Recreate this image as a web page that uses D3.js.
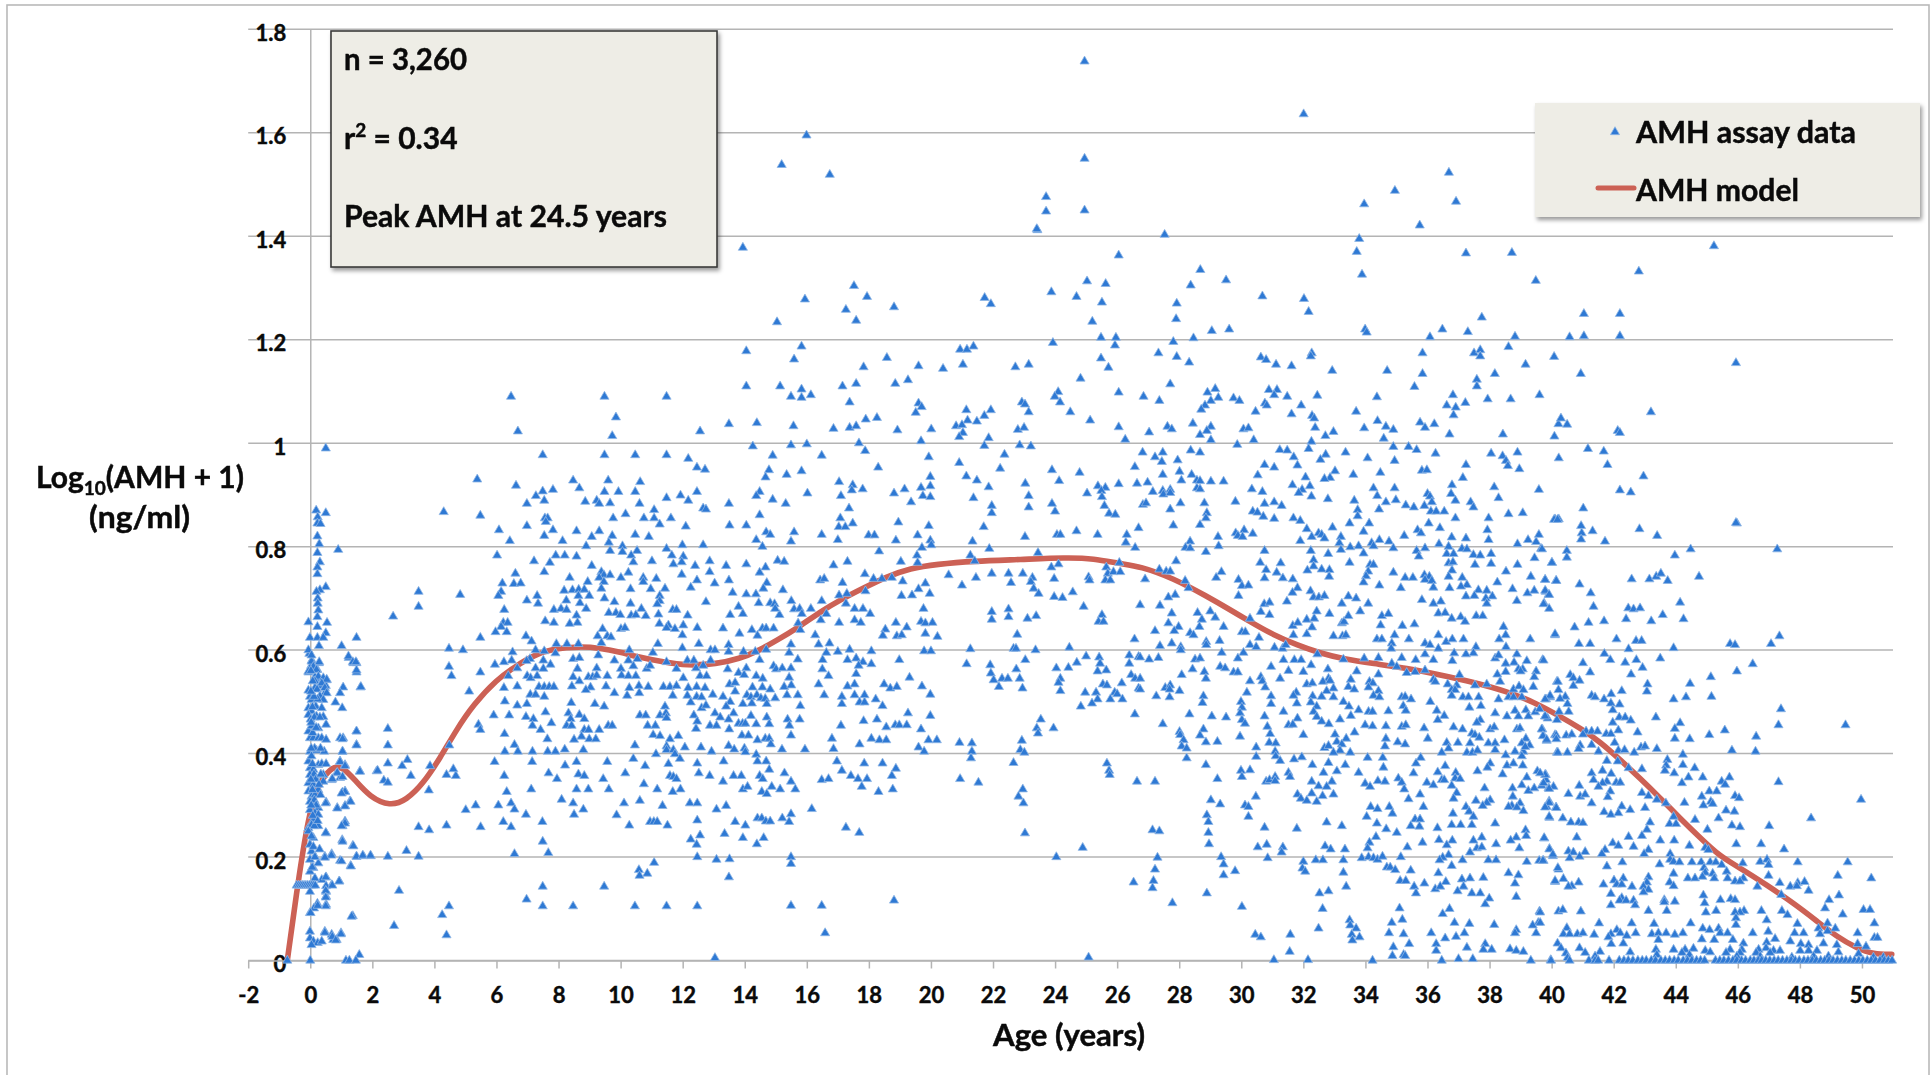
<!DOCTYPE html>
<html><head><meta charset="utf-8">
<style>html,body{margin:0;padding:0;background:#fff;overflow:hidden}svg{display:block}text{font-family:Lato,"Open Sans",sans-serif;font-weight:700;fill:#0a0a0a;stroke:#0a0a0a;stroke-width:.45px}</style>
<script src="https://cdnjs.cloudflare.com/ajax/libs/d3/7.8.5/d3.min.js"></script>
</head><body><svg id="c" width="1930" height="1075"></svg>
<script>
// every assay array is a flat list: age, log10(AMH+1), age, log10(AMH+1) ...
const assayInfants=[.5,.99,.19,.87,.5,.865,.24,.857,.23,.845,.33,.844,.23,.82,.29,.805,.9,.794,.23,.788,.31,.77,.23,.76,.23,.747,.5,.722,.31,.716,.2,.713,.24,.7,.24,.69,.26,.677,.23,.664,-.06,.654,.54,.653,.23,.645,-.01,.624,.23,.624,.5,.633,.42,.624,1.49,.624,1.01,.608,.28,.608,-.03,.593,1.24,.585,1.39,.575,1.49,.575,.05,.58,.28,.575,.03,.57,-.06,.557,.23,.562,1.49,.557,.15,.548,.53,.542,.26,.544,.31,.531,.5,.531,1.06,.528,1.62,.528,.96,.517,-.01,.51,.26,.505,.47,.517,
-.06,.6,.04,.578,.29,.577,1.23,.588,1.37,.577,1.47,.577,1.49,.561,1.63,.529,.04,.59,.1,.568,-.06,.559,.2,.562,.26,.549,.42,.546,.53,.543,.15,.54,.37,.536,-.06,.522,.15,.527,.22,.524,.47,.527,.53,.517,.31,.511,.04,.504,.42,.504,.24,.505,-.06,.488,.18,.491,.37,.488,.04,.482,-.06,.475,.2,.472,.42,.471,.01,.466,.51,.456,-.06,.443,.04,.453,.26,.449,-.01,.43,.1,.43,.26,.43,.37,.43,.51,.427,.96,.43,1.06,.43,1.49,.443,1.49,.417,1.04,.404,-.01,.404,.2,.406,.45,.404,-.06,.385,.04,.395,.26,.378,.37,.38,.51,.38,.96,.385,1.12,.378,1.6,.366,2.14,.366,-.01,.372,.1,.369,-.01,.359,.15,.356,.42,.359,.42,.346,.69,.349,.85,.362,.96,.353,-.06,.343,.1,.34,-.06,.327,.26,.33,.04,.317,.15,.32,-.01,.307,.51,.306,1.04,.325,1.12,.327,1.28,.308,1.12,.299,.87,.295,.26,.295,-.01,.291,.15,.285,.26,.282,.1,.272,.26,.26,-.06,.256,.04,.262,-.06,.25,1.12,.269,1.04,.26,.51,.246,.1,.237,-.01,.224,1.03,.233,1.37,.222,.04,.211,.69,.206,.47,.201,1.49,.201,1.71,.202,1.95,.202,.96,.193,.15,.201,-.01,.195,.26,.188,1.3,.183,.1,.179,-.01,.172,.51,.161,.37,.156,.94,.153,.69,.146,.15,.159,
-.44,.145,-.38,.145,-.32,.145,-.26,.145,-.2,.145,-.14,.145,-.08,.145,-.02,.145,.04,.145,.1,.145,.16,.145,-.01,.133,.51,.144,.51,.133,.51,.124,.23,.11,.51,.108,-.01,.092,.12,.101,1.37,.086,-.01,.056,.47,.056,.69,.05,.99,.053,-.01,.043,.1,.037,.24,.034,.37,.037,.74,.04,.85,.04,.04,.03,1.58,.011,1.15,0,1.26,0,1.47,0,-.74,0,0,0,
.02,.56,.08,.54,.12,.51,.02,.52,.07,.49,.13,.47,.03,.46,.08,.44,.14,.41,.03,.41,.07,.38,.12,.36,.18,.35,.02,.35,.07,.33,.13,.31,.19,.3,.03,.3,.08,.28,.13,.26,.04,.24,.1,.22,.15,.2,.06,.18,.19,.45,.31,.47,.33,.41,.34,.36,.28,.34,.33,.32,.24,.27,.3,.215];
const assayChildhood=[4.3,.867,5.38,.93,5.48,.86,2.67,.665,3.49,.713,3.49,.684,4.83,.707,4.47,.603,4.92,.6,4.47,.568,4.55,.55,5.48,.624,5.48,.557,5.12,.52,6.69,1.023,6.47,1.09,6.63,.918,6.98,.883,7.27,.898,7.49,.907,7.54,.889,7.82,.91,7.49,.977,8.47,.928,8.67,.913,8.86,.887,9.48,.977,9.85,1.05,9.73,1.014,9.48,1.09,9.6,.928,9.48,.906,9.93,.906,9.23,.889,9.31,.883,9.66,.884,10.47,.977,11.48,.977,11.48,1.09,12.56,1.023,12.18,.97,12.46,.953,12.72,.949,10.63,.925,10.47,.906,11.48,.894,11.93,.899,12.18,.889,12.46,.906,10.61,.883,10.16,.863,9.76,.855,10.75,.855,11.08,.871,11.08,.855,11.26,.843,11.62,.855,12.1,.839,12.66,.874,12.75,.872,6.98,.84,7.56,.855,7.65,.855,7.59,.848,6.08,.832,6.43,.811,7.54,.821,7.82,.832,8.13,.811,8.58,.83,9.07,.819,9.31,.83,9.73,.821,9.62,.808,8.89,.801,10.47,.823,10.91,.819,10.06,.801,10.06,.79,9.66,.792,10.53,.792,10.34,.783,10.41,.77,11.01,.772,11.48,.796,11.65,.783,11.99,.803,12.02,.781,11.97,.77,11.7,.766,12.66,.803,12.4,.763,12.87,.772,11.97,.746,12.87,.751,6.02,.783,7.21,.772,7.72,.769,7.91,.783,8.2,.783,8.58,.781,9.07,.763,7.54,.751,6.61,.748,6.19,.729,6.56,.728,6.78,.729,8.36,.74,9.38,.751,9.46,.745,9.66,.745,9.31,.74,9.46,.732,10.25,.75,10.01,.74,10.73,.74,10.73,.732,11.15,.738,12.46,.735,13.03,.729,12.26,.721,8.94,.732,6.15,.713,6.06,.705,8.18,.715,8.45,.716,8.65,.717,8.83,.717,9.38,.719,10.32,.718,10.97,.718,11.43,.719,8.99,.705,8.64,.705,7.31,.705,6.98,.696,7.34,.69,8.25,.696,8.69,.691,9.48,.7,9.8,.693,10.32,.69,11.26,.705,11.26,.695,11.18,.689,12.75,.693,6.25,.678,7.85,.678,8.08,.68,8.26,.678,8.89,.68,8.58,.667,9.62,.672,9.85,.672,9.99,.668,10.34,.667,10.49,.668,10.67,.68,10.81,.666,11.22,.669,11.68,.678,11.8,.678,12.16,.667,7.57,.656,7.85,.653,8.36,.651,8.61,.653,6.22,.653,6.36,.653,6.15,.645,5.97,.635,6.33,.635,11.25,.651,11.54,.648,11.48,.643,11.75,.641,12.02,.648,11.99,.629,12.47,.643,9.42,.641,10.01,.641,10.14,.643,9.26,.627,9.57,.627,9.69,.625,6.95,.627,7.13,.617,7.93,.612,8.27,.612,8.64,.612,9.38,.614,11.2,.612,12.52,.612,11.99,.604,10.28,.6,7.26,.6,7.54,.598,6.52,.596,7.9,.594,9.28,.59,11.04,.595,12.9,.6,13.04,.6,
5.95,.572,6.24,.577,6.49,.58,6.67,.565,7.08,.583,6.97,.579,7.51,.58,7.74,.572,7.26,.565,7.51,.564,6.38,.55,8.47,.583,8.67,.585,8.61,.564,9.23,.565,9.8,.58,10.25,.58,10.54,.583,10.41,.569,10.01,.564,10.03,.551,10.25,.55,10.84,.564,10.95,.57,10.49,.55,11.48,.577,11.8,.564,12.15,.58,12.36,.58,12.43,.565,12.66,.57,12.9,.58,12.02,.546,12.56,.55,12.77,.55,8.47,.548,8.67,.54,8.96,.548,9.1,.548,9.23,.551,9.57,.55,6.99,.55,7.1,.546,7.31,.55,8.43,.53,9.03,.528,8.88,.523,9.53,.53,9.8,.517,6.67,.53,6.24,.527,7.37,.529,7.54,.529,7.7,.529,7.85,.529,7.09,.514,7.26,.514,7.54,.51,10.28,.527,10.59,.531,10.89,.529,10.6,.517,10.21,.512,11.38,.529,11.59,.529,11.8,.531,11.68,.512,12.18,.527,12.45,.529,12.72,.527,12.15,.512,12.45,.51,12.61,.509,12.97,.514,
.81,.499,1.03,.488,6.27,.501,6.67,.493,6.98,.496,8.41,.498,9.17,.496,9.47,.491,11.43,.491,12.26,.499,12.61,.488,12.75,.493,5.91,.474,6.41,.474,7.58,.48,6.95,.471,7.19,.467,7.16,.454,7.77,.459,7.42,.446,8.32,.478,8.39,.467,8.67,.475,8.83,.467,8.26,.454,8.42,.454,8.83,.446,8.97,.446,9.31,.446,9.6,.454,9.73,.454,10.62,.474,10.81,.474,11.27,.474,11.46,.478,11.48,.469,10.87,.454,11.12,.454,12.36,.474,12.47,.462,12.43,.448,12.88,.454,13.09,.454,13.04,.478,11.05,.436,11.27,.434,11.59,.428,11.86,.434,11.48,.414,11.48,.407,5.42,.456,5.48,.446,6.26,.438,7.64,.428,8.5,.427,8.74,.433,8.99,.428,9.2,.428,6.58,.417,10.46,.416,8.8,.407,8.2,.408,6.27,.404,6.69,.404,7.16,.404,7.65,.404,7.9,.404,12.59,.412,12.93,.404,12.07,.412,11.7,.407,11.75,.399,11.14,.399,11.91,.39,10.41,.39,12.47,.381,11.54,.38,10.79,.376,5.94,.384,7.15,.384,8.58,.384,9.57,.384,8.21,.377,7.68,.362,8.64,.36,8.83,.357,6.25,.357,7.95,.351,9.44,.351,10.15,.362,12.52,.362,12.87,.357,11.59,.357,11.7,.355,11.8,.351,10.75,.341,6.33,.326,7.12,.331,8.58,.331,8.96,.331,9.62,.331,11.18,.331,11.68,.326,11.93,.331,6.06,.3,6.47,.304,6.58,.292,8.1,.311,8.47,.304,8.8,.292,10.11,.304,10.62,.309,11.35,.299,12.23,.304,12.47,.304,13.09,.292,8.5,.282,9.87,.281,6.95,.282,5.01,.291,5.33,.3,3.82,.329,4.39,.359,4.69,.357,4.61,.37,3.86,.376,4.48,.416,6.22,.268,6.47,.258,5.49,.258,4.39,.261,3.49,.258,3.83,.252,7.48,.268,10.95,.268,11.07,.268,11.18,.268,10.28,.261,11.51,.261,12.47,.271,12.26,.234,12.56,.242,12.45,.224,7.49,.23,7.67,.208,6.58,.206,12.47,.2,13.09,.195,
2.5,.448,2.5,.416,2.5,.381,3.13,.388,2.96,.376,2.17,.367,3.24,.357,1.6,.365,2.37,.348,2.5,.344,1.49,.443,1.49,.416,1.04,.428,1.04,.404,.96,.384,1.12,.376,.87,.363,1.04,.355,.71,.351,1.12,.326,1.01,.323,1.3,.307,1.12,.298,.87,.294,.5,.304,1.12,.265,1.01,.26,.5,.247,1.04,.23,1.39,.221,.68,.203,.47,.199,1.49,.201,1.69,.203,1.94,.203,2.5,.201,3.1,.212,3.49,.201,1.01,.192,1.31,.182,.71,.145,.93,.153,.5,.161,.5,.135,.5,.122,.5,.105,2.86,.135,1.33,.085,4.47,.105,4.25,.088,2.7,.067,4.39,.049,.47,.054,.99,.051,.71,.046,.82,.039,.24,.106,.01,.092,6.97,.118,7.49,.143,7.49,.105,8.47,.105,9.47,.143,10.46,.105,11.48,.105,12.47,.105,10.59,.175,10.61,.164,10.86,.168,11.08,.189,13.04,.005];
const assayTeensUpper=[13.94,1.378,15.94,1.278,15.04,1.234,17.52,1.304,17.94,1.283,17.26,1.258,17.59,1.237,18.81,1.263,21.73,1.281,21.93,1.269,23.43,1.412,23.88,1.292,24.69,1.283,25.03,1.313,25.63,1.308,26.05,1.363,25.51,1.272,25.2,1.235,25.48,1.204,25.96,1.204,25.93,1.189,23.93,1.194,14.05,1.178,15.83,1.187,15.59,1.162,20.94,1.181,21.16,1.181,21.37,1.187,21.03,1.152,20.39,1.144,19.6,1.149,18.58,1.165,17.83,1.147,22.72,1.147,23.15,1.152,25.48,1.164,25.72,1.146,24.82,1.125,14.05,1.11,15.14,1.11,15.83,1.104,15.49,1.09,15.83,1.088,16.13,1.093,17.15,1.11,17.59,1.115,17.38,1.079,18.85,1.115,19.26,1.122,19.6,1.077,19.7,1.07,19.51,1.059,21.14,1.064,21.93,1.064,22.93,1.079,23.03,1.075,23.15,1.06,24.1,1.099,23.99,1.09,24.16,1.079,24.49,1.06,26.05,1.098,25.13,1.044,13.49,1.037,14.39,1.039,15.57,1.033,16.86,1.028,17.38,1.03,17.59,1.033,17.9,1.046,18.26,1.049,18.92,1.025,20.01,1.027,21.18,1.044,21.48,1.042,21.72,1.053,20.81,1.033,21,1.035,21.03,1.02,20.91,1.012,21.86,1.01,22.8,1.026,23,1.03,26.05,1.031,26.26,1.007,14.26,.994,15.49,.996,16,.998,17.68,1,17.88,.985,19.68,1.004,21.72,.995,22.86,.996,23.22,.994,14.9,.976,16.48,.976,19.93,.973,22.37,.978,20.91,.962,22.23,.951,18.3,.953,14.78,.948,15.83,.946,15.35,.939,14.67,.934,23.9,.948,24.79,.943,26.57,.954,21.14,.936,19.98,.935,21.48,.928,24.13,.927,17.04,.925,17.48,.919,17.45,.909,17.8,.911,19.15,.911,19.68,.914,19.98,.917,21.86,.915,23.04,.922,26.05,.921,26.64,.922,25.38,.917,25.62,.914,25.49,.908,14.48,.906,14.37,.898,14.9,.891,15.32,.883,13.49,.883,16.02,.903,17.1,.898,18.81,.903,19.74,.898,19.98,.896,19.36,.886,21.37,.894,23.15,.898,25.03,.903,25.51,.896,23.9,.883,21.96,.879,21.96,.865,23.15,.876,24,.868,17.36,.874,25.59,.879,25.74,.864,25.94,.862,14.48,.861,17.08,.855,17.03,.838,17.24,.838,17.48,.845,18.95,.847,19.93,.84,21.7,.838,13.51,.841,14.05,.841,14.69,.828,14.82,.823,15.59,.828,16.48,.823,17.99,.822,18.18,.822,19.57,.822,23.03,.819,24.06,.823,24.17,.823,24.69,.83,25.37,.823,26.31,.823,26.69,.836,14.37,.813,17,.813,15.49,.81,18.87,.812,19.98,.812,21.34,.81,26.28,.808,14.57,.8,20.01,.803,19.71,.798,21.88,.796,26.58,.798,18.33,.791,19.55,.783,21.27,.783,23.45,.788,13.4,.763,14.05,.766,15.06,.773,15.27,.771,16.86,.764,17.31,.771,19.03,.771,19.57,.769,21.41,.772,26.07,.769,23.88,.76,24.11,.766,14.48,.75,14.67,.76,13.49,.735,16.43,.735,16.56,.738,17.87,.747,18.15,.738,18.42,.738,18.74,.74,19.09,.733,20.57,.745,21.96,.748,22.5,.748,22.96,.748,21.45,.74,25.65,.76,25.7,.748,25.88,.751,26.1,.751,23.27,.74,23.97,.738,25.08,.741,25.62,.735,25.78,.735,22.58,.73,23.22,.732,25.11,.735,14.71,.73,14.6,.719,15.23,.716,13.61,.711,14.05,.708,14.36,.708,17.15,.73,17.89,.714,17.04,.706,17.29,.709,19.82,.729,19.6,.718,19.05,.705,19.39,.706,19.96,.709,21,.725,23.31,.719,23.47,.709,24.57,.712,23.97,.703,24.24,.701];
const assayTeensLower=[13.8,.684,13.53,.668,13.94,.67,14.45,.691,14.82,.691,14.96,.689,15.12,.668,14.98,.68,15.5,.695,15.59,.679,15.77,.68,15.84,.67,16.13,.68,16.48,.695,16.63,.67,17.26,.69,17.54,.68,17.81,.68,18.04,.67,19.76,.68,21.96,.674,22.5,.679,21.96,.659,22.5,.664,23.11,.661,23.39,.666,24.92,.684,25.51,.668,25.4,.655,25.56,.655,13.3,.642,13.83,.632,14.23,.639,14.41,.628,14.57,.642,14.69,.642,14.93,.642,15.72,.652,15.79,.639,16.45,.658,17.04,.653,17.54,.658,17.74,.653,18.87,.653,19.22,.644,18.53,.64,18.45,.628,18.9,.627,19.06,.629,19.68,.655,19.82,.652,20.05,.653,19.82,.632,20.21,.626,22.78,.63,13.48,.61,15.49,.611,16.27,.629,16.38,.611,16.73,.613,13.48,.597,13.96,.597,14.34,.597,14.69,.601,15.43,.595,16.63,.595,17,.597,17.38,.601,18.08,.598,19.78,.598,20,.598,21.27,.602,22.66,.603,22.74,.603,23.37,.6,24.46,.605,26.56,.621,25,.588,25.42,.586,26.39,.59,26.69,.587,14.48,.581,15.71,.582,16.51,.581,17.31,.581,17.59,.584,17.81,.577,18.98,.581,23.04,.581,18.08,.573,17.67,.57,21.15,.573,21.91,.571,24.7,.576,25.45,.574,26.39,.574,13.45,.563,14.05,.565,14.93,.569,15.01,.563,15.21,.565,15.49,.565,16.5,.563,22.75,.563,24.04,.565,24.43,.566,25.37,.559,25.65,.561,13.8,.556,13.98,.552,14.37,.55,14.58,.545,15.43,.547,16.7,.55,17.59,.554,19.31,.547,21.93,.555,22.02,.542,22.29,.545,22.48,.545,22.86,.545,24.17,.545,24.11,.537,26.45,.552,26.58,.545,13.51,.534,13.69,.537,14.25,.528,14.57,.528,14.82,.524,15.27,.529,15.5,.532,16.38,.534,17.31,.53,17.54,.534,18.49,.534,18.69,.526,18.9,.529,19.71,.53,22.19,.529,22.95,.526,25.54,.534,25.67,.532,26.15,.536,26.69,.526,13.69,.52,24.17,.521,24.97,.518,25.32,.518,25.92,.518,26,.515,13.3,.51,14.07,.513,14.2,.509,14.39,.513,14.52,.507,14.66,.506,14.98,.507,15.36,.513,15.71,.513,16.56,.513,17.13,.51,17.54,.513,17.86,.513,18.22,.505,19.98,.514,25.37,.505,25.78,.505,26.17,.505,13.53,.5,13.94,.496,14.23,.497,14.71,.496,13.4,.491,15.79,.492,17.13,.496,17.7,.499,17.86,.499,18.44,.492,25.19,.497,24.83,.491,13.64,.478,14.2,.473,14.71,.47,19.26,.478,19.98,.473,26.57,.476,13.21,.47,13.48,.466,15.38,.466,15.77,.466,17.83,.463,18.26,.466,23.54,.466,13.8,.458,13.93,.458,14.02,.458,14.37,.457,14.79,.457,15.44,.454,17.1,.454,18.56,.451,18.85,.455,18.98,.455,19.22,.455,19.68,.447,23.95,.449,23.41,.449,23.45,.439,13.5,.447,13.91,.435,14.12,.435,15.49,.435,14.41,.426,14.66,.429,14.79,.429,14.84,.418,16.81,.429,18.08,.429,18.34,.426,18.56,.426,19.92,.426,20.19,.426,20.92,.421,21.32,.42,22.93,.425,17.7,.418,13.48,.415,13.66,.408,13.99,.41,14.02,.403,15.2,.408,15.94,.408,16.86,.409,19.6,.412,19.78,.404,21.32,.404,22.88,.407,23.01,.402,14.37,.398,21.29,.391,14.41,.385,13.32,.385,14.69,.385,16.97,.385,17.85,.381,18.44,.381,22.66,.382,25.67,.381,18.87,.371,14.79,.369,17.13,.367,25.74,.367,25.76,.359,13.64,.357,13.89,.357,14.48,.357,14.58,.351,15.28,.362,13.3,.346,15.49,.346,16.48,.349,16.7,.351,17.42,.357,17.65,.351,17.94,.351,18.74,.357,20.94,.351,21.53,.344,26.64,.346,14.87,.336,13.94,.331,14.09,.336,14.55,.326,14.71,.322,15.14,.331,15.63,.331,17.77,.336,18.31,.326,18.77,.331,22.96,.331,22.82,.317,22.98,.304,13.4,.299,16.16,.293,15.49,.283,14.41,.275,14.55,.275,14.68,.269,14.82,.269,15.21,.275,15.43,.268,13.69,.268,14.02,.261,17.26,.257,17.69,.247,23.03,.246,13.35,.245,13.94,.237,14.61,.237,14.39,.225,15.49,.2,13.51,.196,15.49,.187,24.04,.2,24.89,.218,13.49,.161,15.49,.106,16.48,.106,18.81,.116,16.59,.053,26.53,.151,25.08,.006];
const assayThirtiesUpper=[33.72,1.37,37.24,1.367,38.72,1.368,28.68,1.335,28.37,1.305,29.51,1.315,27.92,1.27,27.9,1.24,30.68,1.284,32.02,1.279,32.17,1.254,33.89,1.326,39.49,1.314,37.75,1.243,29.05,1.217,29.61,1.22,28.46,1.203,27.81,1.196,33.99,1.22,34.04,1.214,36.48,1.22,37.3,1.215,36.08,1.205,38.82,1.206,27.33,1.174,27.92,1.167,28.32,1.156,30.63,1.166,30.8,1.161,31.12,1.152,31.62,1.149,32.27,1.174,32.24,1.168,32.93,1.14,35.84,1.174,37.5,1.174,37.7,1.18,37.7,1.168,38.61,1.186,39.16,1.152,40.08,1.167,34.7,1.14,35.84,1.134,38.17,1.134,37.59,1.123,37.59,1.11,27.71,1.114,35.58,1.109,29.16,1.105,28.91,1.098,26.85,1.09,27.36,1.082,29.26,1.088,29.02,1.082,29.75,1.087,29.94,1.082,30.89,1.103,31.15,1.103,31.06,1.093,31.48,1.09,32.45,1.092,34.37,1.089,36.82,1.093,37.94,1.085,38.68,1.085,39.61,1.093,37.22,1.078,36.62,1.073,36.91,1.069,30.76,1.077,30.82,1.073,31.93,1.073,28.83,1.073,28.71,1.065,30.46,1.061,31.62,1.056,32.28,1.053,32.35,1.048,33.7,1.061,36.84,1.054,28.44,1.038,27.62,1.032,27.76,1.027,27.03,1.021,29.02,1.032,28.89,1.024,28.67,1.016,30.07,1.027,30.23,1.029,32.38,1.03,33.96,1.029,34.39,1.043,34.66,1.032,34.9,1.026,35.76,1.04,35.92,1.03,36.22,1.037,32.97,1.022,32.71,1.014,36.71,1.017,38.43,1.017,40.09,1.013,40.22,1.037,29.02,1.006,30.4,1.006,32.26,1.003,34.59,1.009,29.87,.997,34.9,.993,35.39,.993,35.65,.987,32.17,.989,28.37,.986,28.67,.982,26.82,.982,27.47,.982,31.24,.987,31.48,.986,33.36,.982,36.26,.98,38.05,.98,38.9,.982,27.22,.973,27.95,.967,27.44,.964,31.69,.973,32.72,.978,32.55,.968,34.07,.971,38.42,.975,38.53,.966,34.94,.966,40.23,.971,30.75,.958,31.06,.953,31.81,.957,38.59,.956,37.24,.958,28.01,.945,27.47,.939,28.4,.939,30.53,.938,33.02,.946,33.61,.939,34.48,.943,35.82,.947,35.98,.948,38.96,.95,32.86,.933,32.68,.931,32.07,.934,37.14,.933,28.07,.928,28.57,.928,28.67,.927,29.02,.926,29.43,.926,26.98,.924,28.57,.913,28.67,.911,27.15,.906,27.47,.908,27.49,.901,27.71,.91,27.71,.904,30.34,.911,30.68,.906,31.65,.919,32.21,.917,31.96,.91,31.85,.904,32.26,.897,34.26,.913,34.94,.913,34.38,.898,36.79,.919,36.76,.902,38.15,.915,39.59,.91,38.29,.894,36,.902,36.08,.897,29.81,.887,32.79,.892,33.64,.889,34.66,.886,34.98,.89,36.9,.889,36.14,.886,28.81,.884,28.04,.884,26.83,.881,26.93,.884,30.75,.883,31.06,.886,31.3,.879,35.3,.88,35.56,.876,35.9,.879,37.39,.886,37.48,.876,27.71,.872,34.44,.872,30.37,.868,30.52,.866,28.89,.865,33.75,.871,33.75,.859,36.11,.868,36.28,.868,36.54,.868,38.61,.863,39.07,.865,30.71,.858,31.06,.854,28.86,.855,31.68,.855,31.9,.85,36.9,.855,37.97,.855,40.11,.853,40.23,.853,27.81,.841,28.67,.842,33.49,.845,34.12,.845,36.04,.845,32.94,.837,32.11,.834,36.4,.836,37.93,.832,33.94,.829,35.68,.832,35.79,.826,30.09,.832,29.25,.819,29.82,.826,29.89,.821,30.04,.819,30.37,.825,32.27,.819,32.49,.826,32.59,.823,32.68,.816,33.21,.819,35.25,.821,36.78,.818,37.24,.816,39.59,.823,28.35,.81,28.2,.798,28.35,.797,29.27,.801,31.9,.811,33.16,.807,34.2,.807,34.45,.813,34.76,.81,37.97,.813,39.24,.813,39.5,.809,33.51,.799,33.78,.801,34.26,.801,34.9,.797,33.21,.794,35.92,.797,36.37,.805,36.68,.8,37.11,.796,37.27,.795,38.9,.805,39.66,.796,30.75,.792,28.86,.79,32.24,.792,35.65,.792,36.62,.786,36.84,.786,37.48,.784,37.7,.783,38.05,.786,32.8,.786,33.94,.787,35.72,.781,27.9,.772,30.61,.769,31.27,.768,32.33,.774,33.49,.769,34.15,.765,34.26,.765,36.68,.768,36.82,.77,37.53,.765,38.05,.767,38.9,.765,40.01,.769,39.45,.778,27.36,.756,27.58,.752,27.71,.752,29.36,.751,30.8,.755,31.14,.75,32.33,.762,32.13,.754,32.59,.756,32.84,.755,34.9,.75,36.79,.754,34.09,.752,38.53,.752,29.19,.74,30.75,.739,31.34,.739,31.66,.737,32.83,.742,34.02,.743,35.28,.74,35.53,.74,35.9,.745,36.06,.742,36.68,.742,37.12,.74,39.33,.742,26.9,.737,28.19,.734,29.91,.736,39.79,.736,40.14,.734,35.92,.736,36.14,.734,30.02,.724,30.23,.725,28.3,.72,31.81,.72,33.94,.731,34.45,.725,36.19,.721,36.71,.72,37.27,.726,37.08,.723,38.25,.731,38.74,.718,37.64,.716,37.91,.715,35.14,.72,31.65,.711,32.23,.714,39.22,.71,39.44,.715,39.81,.713,39.9,.707,29.91,.705,27.87,.707,27.65,.702,32.33,.702,32.5,.702,32.68,.705,33.45,.704,33.7,.7,37.24,.704,37.51,.705,38.09,.704,37.88,.7,30.74,.689,30.91,.692,31.47,.694,33.24,.69,34.09,.69,35.82,.697,36.43,.694,36.19,.69,38.88,.695,37.91,.69,39.76,.69,26.74,.687,27.38,.686];
const assayThirtiesLower=[27.22,.637,27.76,.671,27.65,.652,27.98,.645,27.84,.637,27.76,.613,27.38,.608,28.05,.606,28.05,.6,28.35,.633,28.46,.629,28.59,.672,28.73,.659,28.65,.645,29,.675,29.16,.663,29.43,.645,28.87,.616,28.87,.61,29.3,.618,29.37,.595,30.02,.635,30.13,.635,30.28,.661,30.63,.674,30.91,.668,30.57,.624,30.28,.61,30.48,.606,30.07,.595,31.07,.605,31.33,.603,31.43,.61,31.68,.629,31.66,.647,31.82,.653,32.11,.659,32.11,.631,32.28,.644,32.35,.661,32.43,.675,32.84,.67,33.24,.652,33.31,.655,32.97,.627,33.26,.627,33.37,.629,33.45,.666,33.83,.675,34.49,.648,34.53,.666,34.74,.67,35.19,.647,35.58,.65,34.37,.621,34.53,.621,34.94,.629,35.4,.621,34.85,.613,34.83,.603,35.92,.613,36.08,.61,36.35,.629,36.35,.603,36.35,.671,36.57,.672,36.78,.661,37.07,.664,37.21,.655,36.6,.616,36.8,.621,37.16,.621,37.57,.666,37.78,.666,37.56,.606,38.45,.645,38.52,.629,38.31,.621,38.53,.606,39.31,.621,40.11,.629,37.48,.594,37.24,.592,26.74,.586,27.03,.582,27.33,.585,28.51,.582,28.67,.584,29.89,.584,31.36,.581,31.71,.581,31.93,.581,32.45,.592,33.29,.582,33.96,.584,34.42,.585,35.17,.585,35.62,.581,35.92,.592,36.19,.581,36.8,.579,36.86,.594,38.18,.584,38.29,.59,38.88,.592,38.52,.574,38.79,.576,39.2,.579,39.71,.581,34.85,.574,35.01,.568,29.32,.568,29.48,.565,29.75,.557,29.89,.557,30.96,.568,28.43,.563,28.81,.558,31.52,.56,32,.558,32.25,.571,32.79,.563,33.72,.559,35.33,.556,35.6,.558,35.92,.561,37.03,.552,38.25,.553,38.52,.558,38.93,.563,39.07,.563,39.5,.559,39,.559,28.08,.552,28.86,.545,30.63,.548,31.25,.545,32.81,.545,34.42,.553,39.44,.548,26.74,.545,36.19,.543,30.28,.54,30.68,.54,32.11,.534,32.29,.536,32.63,.539,32.86,.541,33.53,.543,34.13,.539,34.24,.536,36.25,.539,36.65,.534,36.94,.532,37.53,.532,37.91,.534,38.34,.539,40.17,.539,27.55,.527,27.71,.532,27.69,.524,26.74,.524,28.01,.521,30.77,.528,32.97,.526,33.45,.529,33.64,.524,34.1,.528,34.42,.521,39.41,.529,38.77,.524,38.95,.53,39.09,.523,36.78,.523,36.89,.523,30.18,.518,31.77,.518,32.75,.521,27.26,.511,28.78,.511,27.69,.509,30.96,.511,31.68,.512,32.3,.511,32.59,.51,32.97,.509,34.26,.512,34.45,.509,35.17,.509,35.28,.51,35.47,.505,36.78,.512,37.14,.509,37.32,.509,37.65,.509,38.29,.505,38.61,.509,38.77,.509,39.04,.509,39.82,.505,39.95,.509,28.75,.498,29.99,.5,30.96,.496,31.79,.497,32.24,.499,33.29,.5,36.09,.5,37.72,.492,37.35,.489,33.47,.491,35.22,.492,32.43,.491,30.02,.489,31.36,.481,33.78,.484,34.1,.481,34.23,.481,34.74,.482,35.3,.483,36.3,.483,32.33,.481,38.18,.478,38.82,.483,39.17,.484,39.47,.48,39.61,.486,29.96,.478,28.33,.476,33.53,.473,36.54,.473,29.05,.472,29.51,.47,30.75,.472,38.56,.472,38.93,.472,39.25,.472,39.79,.472,39.87,.468,40.17,.465,31.81,.468,30.02,.465,36.33,.465,32.43,.471,32.59,.462,33.18,.466,37.7,.465,37.59,.46,27.47,.457,30.12,.458,31.52,.455,31.66,.456,32.82,.457,33.99,.455,34.23,.453,34.66,.453,35.17,.452,35.3,.455,30.84,.452,35.89,.449,36.84,.451,37.13,.447,38.02,.447,38.15,.451,38.88,.447,38.98,.449,39.7,.447,28.78,.447,28.01,.442,28.03,.436,28.67,.435,29.96,.433,30.93,.438,32,.436,33.02,.437,33.65,.441,37.43,.439,37.53,.436,37.67,.431,39.74,.434,40.11,.436,28.14,.426,28.86,.422,29.23,.423,30.9,.421,31.11,.42,33.08,.423,33.38,.429,34.66,.429,34.63,.414,35.04,.422,35.28,.418,36.01,.429,36.62,.421,36.98,.421,37.37,.42,37.96,.42,38.18,.42,38.48,.426,39.17,.429,39.04,.42,39.29,.416,39.84,.425,28.08,.414,28.24,.41,30.48,.412,32.68,.411,32.81,.415,33.24,.418,33.18,.406,33.51,.402,32.97,.402,31.09,.404,36.46,.402,36.68,.41,37.27,.402,37.45,.402,37.61,.406,38.18,.407,38.82,.404,39.09,.404,39.15,.413,40.17,.402,28.24,.391,30.48,.394,31.11,.395,31.25,.386,31.7,.389,31.95,.393,34.07,.392,34.56,.392,35.78,.392,38.52,.397,39.04,.395,32.81,.382,28.86,.378,32.29,.378,33.35,.378,35.63,.381,36.57,.376,38.02,.381,38.56,.377,38.77,.381,39.07,.377,34.58,.373,37.93,.373,29.99,.367,30.28,.368,31.52,.363,32.65,.363,33.08,.366,33.78,.363,35.55,.362,36.33,.364,36.91,.363,37.61,.366,38.42,.36,39.54,.366,39.81,.359,30.02,.355,31.57,.355,29.23,.351,27.22,.346,30.8,.346,30.91,.349,31.09,.355,31.09,.347,35.06,.352,36.89,.352,39.2,.354,36.46,.349,37.05,.351,39.82,.349,32.27,.346,32.49,.337,32.92,.346,32.75,.336,33.99,.342,34.15,.336,34.4,.347,34.63,.346,35.17,.344,35.98,.344,36.19,.339,36.54,.349,36.78,.338,35.25,.331,37.84,.333,38.74,.333,39.04,.339,39.25,.328,39.44,.333,39.68,.338,39.9,.333,30.47,.317,31.81,.321,31.92,.313,32.27,.323,32.62,.318,32.97,.321,32.11,.309,32.43,.307,35.76,.321,36.94,.324,36.84,.313,35.39,.312,38.75,.317,29.02,.31,37.56,.309,38.02,.31,37.91,.305,37.78,.299,38.72,.299,38.98,.304,39.92,.308,29.32,.302,30.12,.3,30.23,.297,34.17,.297,34.39,.293,34.77,.297,34.87,.284,35.87,.297,37.24,.297,37.34,.288,38.61,.297,38.88,.296,39.09,.289,39.84,.297,40.14,.296,28.89,.281,30.23,.278,34.04,.278,36.82,.284,37.48,.278,39.93,.276,28.94,.268,32.75,.267,35.6,.273,35.76,.273,34.37,.265,33.24,.26,35.46,.26,35.74,.259,36.78,.262,37.07,.262,37.43,.262,38.18,.265,27.14,.252,27.36,.25,28.94,.247,30.75,.257,31.79,.255,34.67,.254,35.01,.247,36.32,.256,39.16,.252,39.18,.241,34.34,.239,37.75,.238,38.86,.238,39.76,.236,28.96,.225,34.13,.228,35.84,.228,36.37,.233,36.8,.232,37.48,.232,38.68,.232,36.62,.223,30.53,.219,30.82,.224,31.34,.219,31.3,.209,32.7,.221,32.88,.215,33.34,.215,34.07,.217,35.35,.219,37.59,.217,37.75,.219,38.21,.225,38.96,.217,39.93,.216,37.37,.209,27.3,.199,29.35,.2,30.85,.198,32.4,.194,32.63,.194,33.29,.194,33.88,.198,34.1,.2,34.26,.198,34.39,.195,34.55,.201,35.14,.2,36.68,.204,36.49,.199,36.39,.194,37.13,.194,37.96,.194,38.21,.194,39.2,.191,39.6,.193,39.74,.193,40.04,.202,32,.191,29.43,.186,27.22,.176,29.8,.173,31.97,.178,32.06,.172,33.29,.17,34.69,.18,34.8,.18,34.96,.175,35.46,.174,36.78,.183,40.22,.176,29.43,.165,27.17,.154,36.35,.169,38.61,.169,38.93,.165,37.8,.16,35.12,.154,35.3,.154,37.11,.157,37.37,.159,36.59,.152,35.9,.149,38.82,.149,40.11,.152,27.14,.14,33.38,.143,35.57,.143,36.25,.138,36.41,.143,37.16,.143,36.97,.134,28.89,.13,32.52,.13,32.81,.134,35.63,.13,37.43,.13,37.7,.13,38.86,.123,37.99,.12,27.78,.111,30.02,.104,37.86,.109,32.62,.1,35.1,.101,36.71,.1,36.49,.09,39.61,.095,40.22,.095,33.49,.078,33.51,.068,34.85,.073,35.19,.079,36.87,.073,37.35,.071,38.15,.069,39.57,.073,39.39,.068,32.49,.062,33.7,.062,38.86,.059,30.45,.05,30.63,.045,31.58,.05,33.56,.05,33.81,.045,33.58,.039,34.76,.053,35.23,.051,36.12,.053,36.57,.043,36.92,.046,37.19,.053,38.82,.053,39.5,.053,35.41,.032,36.28,.032,37.27,.025,37.86,.032,37.8,.021,38.07,.021,38.66,.022,38.86,.019,39.09,.017,34.9,.026,36.28,.019,31.56,.017,34.87,.009,35.23,.011,35.28,.009,31.05,.001,32.15,.001,34.23,0,36.46,0,37,.003,37.46,.003,39.33,0,39.97,.001];
const assayForties=[41.02,.874,40.08,.852,40.19,.852,40.95,.84,40.97,.826,40.95,.814,41.32,.83,41.72,.81,42.83,.834,43.4,.821,45.97,.845,47.27,.795,44.48,.795,43.97,.783,40.49,.792,40.49,.779,40.01,.769,39.69,.795,39.79,.736,40.15,.734,40.9,.727,42.58,.737,43.15,.737,43.37,.742,43.52,.748,43.74,.734,44.75,.742,39.79,.715,39.92,.707,41.26,.71,39.74,.689,39.92,.68,41.35,.684,42.47,.681,42.64,.679,42.85,.681,44.14,.692,42.4,.66,43.58,.668,43.21,.656,44.25,.66,41.19,.653,41.69,.656,40.74,.644,40.11,.631,42.09,.621,40.88,.612,41.24,.612,42.72,.618,42.9,.618,45.75,.612,45.91,.61,47.07,.612,47.34,.627,42.48,.602,43.93,.604,39.74,.58,41.7,.593,41.89,.581,41.01,.575,42.37,.576,42.73,.581,43.5,.584,42.93,.566,46.48,.573,41.24,.557,42.56,.553,45.97,.559,45.13,.548,40.6,.552,40.7,.546,40.9,.541,40.2,.539,40.7,.531,43.09,.534,43.07,.52,44.46,.535,42.26,.521,40.22,.523,41.92,.515,41.29,.512,41.4,.509,41.69,.505,39.95,.512,39.79,.505,40.44,.51,40.27,.506,43.93,.505,44.33,.509,45.15,.51,41.91,.497,42.19,.495,40.51,.496,41.97,.484,40.55,.481,40.24,.481,47.39,.486,39.79,.472,42.18,.47,42.37,.47,42.55,.464,41.97,.46,43.36,.47,44.14,.459,47.31,.455,49.47,.455,39.68,.447,42.15,.445,42.77,.441,43.97,.448,45.58,.445,41.11,.443,41.29,.443,41.48,.443,41.76,.438,41.91,.438,40.15,.435,40.47,.435,40.65,.437,41.01,.437,39.72,.434,39.84,.427,40.15,.428,43.97,.429,44.45,.428,45.08,.436,46.59,.433,40.92,.416,41.29,.417,42.03,.421,42.88,.412,43.01,.414,43.39,.409,40.2,.402,40.51,.402,40.87,.409,41.51,.404,42.15,.406,42.35,.407,42.66,.402,45.81,.406,46.57,.404,44.23,.398,43.73,.388,44.23,.378,41.78,.386,42.13,.385,43.69,.377,42.91,.37,42.48,.372,43.65,.367,43.95,.362,44.61,.372,41.64,.367,41.29,.362,41.92,.361,39.79,.359,39.63,.362,44.41,.354,45.73,.354,44.87,.354,41.35,.349,39.74,.343,40.06,.336,41.78,.346,42.08,.344,42.21,.344,44.2,.343,45.48,.346,45.59,.34,47.31,.345,40.89,.338,41.64,.343,41.51,.336,39.92,.332,40.54,.322,40.92,.317,41.08,.321,41.89,.327,42.91,.324,43.12,.318,44.84,.317,45.08,.327,45.32,.327,45.91,.318,46.04,.314,41.81,.316,43.39,.311,43.68,.304,44.28,.305,45.13,.307,49.97,.311,41.29,.304,39.92,.305,39.79,.296,40.15,.295,42.26,.298,44.89,.3,45.19,.303,43.01,.295,39.92,.278,41.69,.287,41.91,.282,42.15,.285,42.53,.291,45.62,.29,45.89,.288,45.38,.275,40.36,.275,48.36,.275,40.62,.267,40.87,.267,41.01,.266,43.17,.267,43.93,.278,43.8,.264,44.01,.264,44.62,.272,45.81,.261,46.07,.258,47.01,.26,43.07,.253,45.02,.253,40.81,.238,39.76,.237,42.48,.239,42.91,.241,43.5,.232,43.95,.232,41.97,.227,42.15,.222,42.64,.22,44.44,.222,45.95,.225,46.75,.225,44.95,.218,39.93,.215,45.05,.214,47.49,.215,40.04,.205,40.54,.211,40.7,.209,41.08,.21,41.72,.214,41.62,.206,43.12,.214,42.98,.206,43.82,.206,39.72,.193,40.58,.198,40.9,.201,43.82,.195,43.93,.191,44.12,.19,42.28,.19,43.48,.186,44.52,.19,44.82,.19,45.11,.19,45.29,.19,46.16,.188,46.72,.191,46.94,.195,46.99,.185,47.93,.19,49.54,.19,45.48,.185,41.78,.182,40.2,.179,44.91,.179,43.93,.168,45.64,.172,44.95,.17,45.19,.168,49.22,.164,46.99,.164,50.3,.159,40.11,.154,40.38,.158,42.01,.155,42.31,.159,43.12,.161,44.39,.159,44.62,.159,44.86,.162,45.24,.159,45.67,.159,46.18,.159,40.87,.151,43.07,.151,43.8,.151,45.91,.153,46.07,.153,47.35,.15,47.93,.15,48.15,.152,40.65,.144,40.54,.143,41.67,.147,42.1,.147,42.26,.147,43.93,.144,42.96,.143,42.59,.143,46.63,.143,47.69,.143,47.9,.144,48.28,.135,43.12,.137,42.96,.132,41.91,.129,44.89,.126,47.4,.127,49.26,.126,42.26,.121,45.77,.119,45.91,.117,45.44,.117,48.94,.117,42.19,.116,42.4,.116,42.64,.116,43.63,.117,43.97,.114,44.93,.111,42.69,.107,41.91,.107,43.63,.113,48.81,.101,40.36,.098,40.94,.095,43.12,.096,43.71,.096,45.3,.096,44.97,.093,46.76,.096,46.2,.096,46.07,.093,45.91,.093,47.42,.096,50.05,.098,50.26,.098,47.6,.088,49.38,.089,39.63,.093,45.94,.082,46.93,.078,41.53,.072,42.58,.072,43.3,.071,44.48,.072,45.94,.069,47.92,.071,48.89,.072,50.4,.072,39.63,.073,40.49,.063,44.87,.062,45.38,.062,45.09,.059,46.98,.056,48.6,.062,49.14,.062,42.1,.059,48.89,.057,40.38,.051,40.58,.051,40.83,.051,41.01,.053,41.37,.05,41.91,.051,42.21,.053,42.42,.048,42.71,.053,43.23,.051,43.44,.053,43.69,.053,43.97,.05,44.23,.053,45.43,.053,45.67,.053,46.48,.053,47.83,.053,48.12,.053,49.86,.053,50.4,.044,50.5,.044,41.83,.045,40.19,.033,44.84,.041,45.24,.04,45.84,.04,47.2,.042,48.65,.051,41.92,.032,42.31,.033,43.44,.04,46.18,.033,46.93,.035,47.69,.037,48.03,.032,48.28,.03,48.76,.033,49.19,.03,49.86,.032,50.13,.027,40.3,.024,40.9,.024,43.36,.021,43.93,.021,44.3,.021,44.57,.023,44.95,.019,45.75,.021,46.13,.021,46.67,.021,46.91,.024,47.15,.019,47.36,.019,48.01,.019,48.28,.019,48.55,.019,49.24,.016,40.46,.014,41.56,.017,42.53,.016,41.08,.015,44.2,.015,45.11,.016,45.62,.015,46.07,.015,46.59,.015,47.04,.015,40.51,.005,41.4,.008,43.39,.011,44.44,.011,45.97,.008,46.72,.008,47.74,.006,48.44,.008,48.92,.008,49.89,.013,50.37,.006,50.69,.006];
const assayOutliers=[15.99,1.595,15.19,1.538,16.74,1.519,24.95,1.738,24.95,1.55,24.95,1.45,23.71,1.476,23.71,1.448,23.41,1.414,32.01,1.636,27.53,1.403,33.96,1.462,34.95,1.488,35.75,1.421,36.69,1.523,36.92,1.467,33.8,1.395,42.81,1.332,45.23,1.381,40.58,1.205,41.04,1.25,41.04,1.207,40.94,1.134,42.2,1.25,42.2,1.207,43.2,1.06,42.13,1.024,42.2,1.02,45.94,1.155,45.94,.846,40.5,1.036,40.3,1.048,41.17,.989,41.68,.984,41.8,.958,42.2,.909,42.55,.905,42.96,.936];
const assayZeroAges=[39.98,40.58,41.2,41.4,41.5,41.85,42.18,42.33,42.47,42.62,42.78,42.92,43.05,43.21,43.35,43.52,43.66,43.8,43.95,44.08,44.24,44.38,44.52,44.67,44.8,44.93,45.28,45.42,45.55,45.7,45.84,45.97,46.12,46.25,46.4,46.52,46.66,46.77,46.9,47.03,47.17,47.3,47.44,47.58,47.72,47.85,47.98,48.13,48.26,48.4,48.53,48.67,48.8,48.94,49.07,49.21,49.35,49.48,49.62,49.76,49.9,50.03,50.17,50.3,50.44,50.58,50.72,50.85,50.97];
const modelAges=[-.74,-.4,-.06,.2,.47,.79,1.06,1.44,1.92,2.57,3.1,3.64,4.18,4.71,5.25,6,6.65,7.2,7.83,8.7,9.34,9.98,10.62,11.37,12.13,13.09,13.85,14.39,15.04,15.68,16.43,17.08,17.83,18.58,19.33,20.19,21.37,22.88,24.38,25.24,26.1,26.74,27.81,28.89,29.64,30.28,31.04,31.79,32.54,33.29,34.26,35.33,36.41,37.48,38.56,39.41,40.27,40.92,41.56,42.21,42.85,43.5,44.14,44.79,45.43,46.07,46.93,47.79,48.55,49.19,49.83,50.37,50.96];
const modelValues=[0,.15,.278,.33,.359,.376,.373,.349,.316,.298,.31,.342,.391,.446,.494,.543,.57,.59,.603,.607,.604,.596,.586,.577,.57,.573,.584,.597,.619,.642,.674,.697,.72,.742,.758,.766,.772,.775,.779,.777,.767,.762,.739,.704,.678,.655,.629,.61,.594,.583,.574,.565,.552,.538,.52,.5,.472,.449,.423,.388,.352,.314,.275,.237,.201,.179,.146,.111,.076,.046,.024,.012,.012];
const xTicks=[-2,0,2,4,6,8,10,12,14,16,18,20,22,24,26,28,30,32,34,36,38,40,42,44,46,48,50];
const yTicks=[0,.2,.4,.6,.8,1,1.2,1.4,1.6,1.8];
const statLines=["n = 3,260","Peak AMH at 24.5 years"];
const seriesNames=["AMH assay data","AMH model"];
const gridColor="#b4b4b4",markerColor="#2f79d4",markerHalo="#8fb6e4",modelColor="#cc6155",panelFill="#eeede6";

const svg=d3.select("#c");
const x=d3.scaleLinear().domain([-2,51]).range([248.2,1893]);
const y=d3.scaleLinear().domain([0,1.8]).range([960.5,29.3]);
const defs=svg.append("defs");
const sh=defs.append("filter").attr("id","shadow").attr("x","-5%").attr("y","-5%").attr("width","112%").attr("height","115%");
sh.append("feDropShadow").attr("dx",2).attr("dy",3).attr("stdDeviation",2.2).attr("flood-color","#000").attr("flood-opacity",.4);
defs.append("filter").attr("id","soft").append("feGaussianBlur").attr("stdDeviation",.35);

svg.append("rect").attr("x",7).attr("y",5).attr("width",1922).attr("height",1100).attr("fill","#fff").attr("stroke","#b9b9b9").attr("stroke-width",1.6);

const axisStyle=g=>{g.selectAll("path,line").attr("stroke",gridColor).attr("stroke-width",1.5);g.selectAll("text").attr("font-size",22).attr("fill","#0a0a0a").attr("font-family","Lato").attr("font-weight",700);};
svg.append("g").selectAll("line").data(yTicks).join("line").attr("x1",x(-2)).attr("x2",x(51)).attr("y1",d=>y(d)).attr("y2",d=>y(d)).attr("stroke",gridColor).attr("stroke-width",1.5);
svg.append("g").attr("transform",`translate(${x(0)},0)`)
  .call(d3.axisLeft(y).tickValues(yTicks).tickSize(0).tickPadding(24).tickFormat(d=>String(d)))
  .call(axisStyle).call(g=>g.selectAll("text").attr("dy",0).attr("y",11));
svg.append("g").attr("transform",`translate(0,${y(0)})`)
  .call(d3.axisBottom(x).tickValues(xTicks).tickSize(8).tickSizeOuter(0).tickFormat(d=>String(d)))
  .call(axisStyle).call(g=>g.selectAll("text").attr("dy",0).attr("y",42.5));

const modelLine=d3.line().x((d,i)=>x(modelAges[i])).y((d,i)=>y(modelValues[i])).curve(d3.curveBasis);
svg.append("path").attr("d",modelLine(modelValues)).attr("fill","none").attr("stroke",modelColor).attr("stroke-width",5.6).attr("stroke-linecap","round").attr("stroke-linejoin","round");

const pairs=a=>d3.range(0,a.length,2).map(i=>[a[i],a[i+1]]);
const points=[assayInfants,assayChildhood,assayTeensUpper,assayTeensLower,assayThirtiesUpper,assayThirtiesLower,assayForties,assayOutliers].flatMap(pairs).concat(assayZeroAges.map(a=>[a,0]));
const tri=d3.symbol().type(d3.symbolTriangle).size(36)();
svg.append("g").attr("filter","url(#soft)").selectAll("path").data(points).join("path").attr("d",tri)
  .attr("transform",d=>`translate(${x(d[0])},${y(d[1])})`).attr("fill",markerColor).attr("stroke",markerHalo).attr("stroke-width",.8);

// stats panel
svg.append("rect").attr("x",331).attr("y",31).attr("width",386).attr("height",236).attr("fill",panelFill).attr("stroke","#3a3a3a").attr("stroke-width",1.6).attr("filter","url(#shadow)");
const label=(t,px,py,fs,len)=>{const n=svg.append("text").attr("x",px).attr("y",py).attr("font-size",fs).text(t);if(len)n.attr("textLength",len).attr("lengthAdjust","spacingAndGlyphs");return n;};
label(statLines[0],344,70,30,123);
const r=svg.append("text").attr("x",344).attr("y",149).attr("font-size",30);
r.append("tspan").text("r");r.append("tspan").attr("font-size",19).attr("dy",-12).text("2");r.append("tspan").attr("dy",12).text(" = 0.34");
label(statLines[1],344,227,30,323);

// legend
svg.append("rect").attr("x",1535).attr("y",103).attr("width",385).attr("height",114).attr("fill",panelFill).attr("filter","url(#shadow)");
svg.append("path").attr("d",tri).attr("transform",`translate(1615,132)`).attr("fill",markerColor).attr("stroke",markerHalo).attr("stroke-width",.8);
svg.append("line").attr("x1",1598).attr("x2",1634).attr("y1",188).attr("y2",188).attr("stroke",modelColor).attr("stroke-width",5).attr("stroke-linecap","round");
label(seriesNames[0],1636,143,30,220);
label(seriesNames[1],1636,201,30,163);

// axis titles
const yl=svg.append("text").attr("x",36).attr("y",488).attr("font-size",30);
yl.append("tspan").text("Log");yl.append("tspan").attr("font-size",19).attr("dy",7).text("10");yl.append("tspan").attr("dy",-7).text("(AMH + 1)");
label("(ng/ml)",89,528,30,101);
label("Age (years)",993,1046,30,152);
</script></body></html>
